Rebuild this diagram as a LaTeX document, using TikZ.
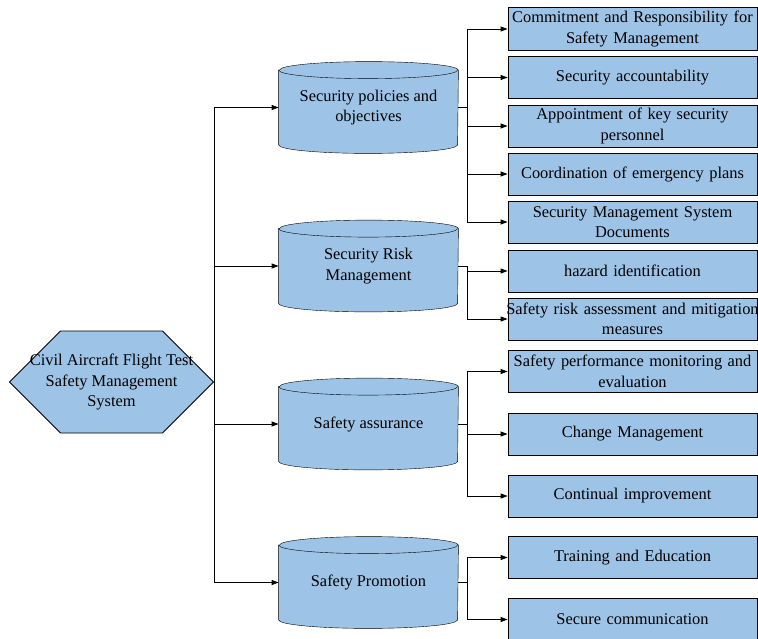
\documentclass[tikz,border=0pt]{standalone}
\usepackage{fontspec}
\setmainfont{Liberation Serif}
\usetikzlibrary{arrows.meta,shapes.geometric,shapes.symbols,positioning,backgrounds}

\definecolor{paleblue}{HTML}{9DC3E6}

\begin{document}
\begin{tikzpicture}[
    x=1pt, y=-1pt, line width=0.8pt,
    every node/.style={font=\fontsize{16.4}{20.5}\selectfont},
    hexa/.style={draw, fill=paleblue, signal, signal to=west and east, signal pointer angle=90, minimum width=204pt, minimum height=102pt, inner sep=0pt},
    pillar/.style={minimum width=179pt, minimum height=74pt, inner sep=0pt, align=center},
    lidarc/.style={x radius=89.5pt, y radius=8.5pt},
    item/.style={draw, fill=paleblue, minimum width=249pt, minimum height=42pt, text width=245pt, inner xsep=2pt, align=center},
    arr/.style={-{Triangle[length=7pt, width=5pt]}}
]
\useasboundingbox (0,0) rectangle (758,638);

\node[hexa] (sys) at (111.5,382) {};
\node[align=center] (sysname) at (sys.center) {Civil Aircraft Flight Test\\Safety Management\\System};

\node[pillar] (pol) at (368.5,107.5) {Security policies and\\objectives};
\node[pillar] (risk) at (368.5,266) {Security Risk\\Management};
\node[pillar] (assu) at (368.5,424) {Safety assurance};
\node[pillar] (prom) at (368.5,582.5) {Safety Promotion};

% cylinder bodies behind the texts
\begin{scope}[on background layer]
\foreach \p in {pol,risk,assu,prom} {
  \draw[fill=paleblue] (\p.north west) -- (\p.south west)
    arc[lidarc, start angle=180, end angle=360] -- (\p.north east)
    arc[lidarc, start angle=0, end angle=180] -- cycle;
  \draw (\p.north west) arc[lidarc, start angle=180, end angle=360];
}
\end{scope}

\node[item] (commit) at (632.5,29) {Commitment and Responsibility for\\Safety Management};
\node[item] (account) at (632.5,77.5) {Security accountability};
\node[item] (appoint) at (632.5,126) {Appointment of key security\\personnel};
\node[item] (emerg) at (632.5,174) {Coordination of emergency plans};
\node[item] (docs) at (632.5,222) {Security Management System\\Documents};
\node[item] (hazard) at (632.5,271) {hazard identification};
\node[item] (assess) at (632.5,319) {\hbox to \linewidth{\hss Safety risk assessment and mitigation\hss}\\measures};
\node[item] (monitor) at (632.5,371.5) {Safety performance monitoring and\\evaluation};
\node[item] (change) at (632.5,434) {Change Management};
\node[item] (improve) at (632.5,496) {Continual improvement};
\node[item] (train) at (632.5,557.5) {Training and Education};
\node[item] (comm) at (632.5,619.5) {Secure communication};

% system to the four elements
\draw[arr] (sys.east) |- (pol.west);
\draw[arr] (sys.east) |- (risk.west);
\draw[arr] (sys.east) |- (assu.west);
\draw[arr] (sys.east) |- (prom.west);

% elements to their items
\foreach \b in {commit,account,appoint,emerg,docs}
  \draw[arr] (pol.east) -- ++(9,0) |- (\b.west);
\foreach \b in {hazard,assess}
  \draw[arr] (risk.east) -- ++(9,0) |- (\b.west);
\foreach \b in {monitor,change,improve}
  \draw[arr] (assu.east) -- ++(9,0) |- (\b.west);
\foreach \b in {train,comm}
  \draw[arr] (prom.east) -- ++(9,0) |- (\b.west);
\end{tikzpicture}
\end{document}
